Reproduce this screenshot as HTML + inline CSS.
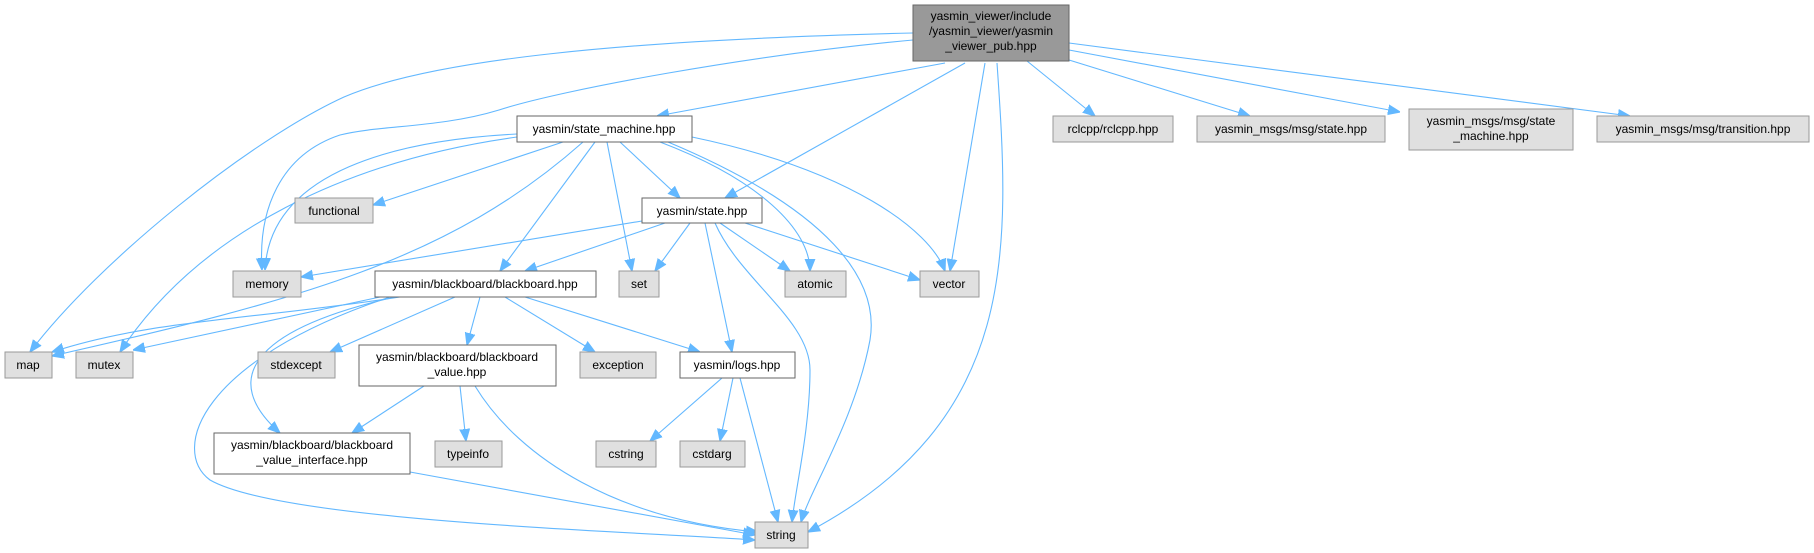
<!DOCTYPE html>
<html><head><meta charset="utf-8"><style>
html,body{margin:0;padding:0;background:#fff;}
svg{display:block;}
text{font-family:"Liberation Sans",Helvetica,sans-serif;font-size:12px;fill:#000;}
.g{fill:#e0e0e0;stroke:#999;stroke-width:1}
.w{fill:#fff;stroke:#666;stroke-width:1}
.e{fill:none;stroke:#63b8ff;stroke-width:1.1}
</style></head><body>
<svg width="1814" height="553" viewBox="0 0 1814 553" xmlns="http://www.w3.org/2000/svg">
<defs><marker id="a" viewBox="0 0 10 10" refX="10" refY="5" markerWidth="12" markerHeight="12" markerUnits="userSpaceOnUse" orient="auto"><path d="M0,1 L10,5 L0,9 z" fill="#63b8ff" stroke="#63b8ff"/></marker></defs>
<g marker-end="url(#a)">
<path class="e" d="M913,33 C620,40 430,60 344,97 C250,140 100,260 30,352"/>
<path class="e" d="M913,40 C750,55 560,90 499,110 C440,128 380,125 340,135 C280,155 258,210 262,270"/>
<path class="e" d="M945,63 L657,116"/>
<path class="e" d="M965,63 L725,198"/>
<path class="e" d="M985,63 L950,271"/>
<path class="e" d="M997,63 C1010,250 1020,420 808,532"/>
<path class="e" d="M1027,61 L1095,116"/>
<path class="e" d="M1069,60 L1250,116"/>
<path class="e" d="M1069,50 L1400,112"/>
<path class="e" d="M1069,43 L1630,116"/>
<path class="e" d="M517,134 C400,140 270,170 265,270"/>
<path class="e" d="M517,137 C350,160 200,230 120,352"/>
<path class="e" d="M583,142 C450,260 300,300 52,356"/>
<path class="e" d="M563,142 L373,205"/>
<path class="e" d="M595,142 L500,271"/>
<path class="e" d="M607,142 L632,271"/>
<path class="e" d="M620,142 L680,198"/>
<path class="e" d="M660,142 C760,180 810,230 810,271"/>
<path class="e" d="M668,142 C830,210 880,280 870,340 C855,420 810,490 801,522"/>
<path class="e" d="M692,137 C850,170 930,230 945,271"/>
<path class="e" d="M642,221 L301,277"/>
<path class="e" d="M665,223 L525,271"/>
<path class="e" d="M690,223 L655,271"/>
<path class="e" d="M720,223 L790,271"/>
<path class="e" d="M745,223 L920,280"/>
<path class="e" d="M705,223 L732,352"/>
<path class="e" d="M715,223 C740,280 810,320 810,370 C810,430 795,490 792,522"/>
<path class="e" d="M400,297 C250,320 150,320 52,352"/>
<path class="e" d="M380,297 L133,350"/>
<path class="e" d="M455,297 L330,352"/>
<path class="e" d="M480,297 L467,345"/>
<path class="e" d="M505,297 L595,352"/>
<path class="e" d="M525,297 L700,352"/>
<path class="e" d="M395,297 C250,330 220,380 280,433"/>
<path class="e" d="M390,297 C200,360 170,450 210,480 C280,520 600,530 755,540"/>
<path class="e" d="M424,386 L352,433"/>
<path class="e" d="M460,386 L466,441"/>
<path class="e" d="M475,386 C520,460 620,520 758,532"/>
<path class="e" d="M410,472 L755,535"/>
<path class="e" d="M722,378 L650,441"/>
<path class="e" d="M733,378 L720,441"/>
<path class="e" d="M740,378 L778,522"/>
</g>
<rect x="913" y="5" width="156" height="56" fill="#999" stroke="#666"/>
<text x="991" y="20" text-anchor="middle">yasmin_viewer/include</text>
<text x="991" y="35" text-anchor="middle">/yasmin_viewer/yasmin</text>
<text x="991" y="50" text-anchor="middle">_viewer_pub.hpp</text>
<rect class="w" x="517" y="116" width="175" height="26"/><text x="604" y="133" text-anchor="middle">yasmin/state_machine.hpp</text>
<rect class="g" x="295" y="198" width="78" height="25"/><text x="334" y="215" text-anchor="middle">functional</text>
<rect class="w" x="642" y="198" width="120" height="25"/><text x="702" y="215" text-anchor="middle">yasmin/state.hpp</text>
<rect class="g" x="233" y="271" width="68" height="26"/><text x="267" y="288" text-anchor="middle">memory</text>
<rect class="w" x="375" y="271" width="221" height="26"/><text x="485" y="288" text-anchor="middle">yasmin/blackboard/blackboard.hpp</text>
<rect class="g" x="619" y="271" width="40" height="26"/><text x="639" y="288" text-anchor="middle">set</text>
<rect class="g" x="785" y="271" width="61" height="26"/><text x="815" y="288" text-anchor="middle">atomic</text>
<rect class="g" x="920" y="271" width="59" height="26"/><text x="949" y="288" text-anchor="middle">vector</text>
<rect class="g" x="5" y="352" width="47" height="26"/><text x="28" y="369" text-anchor="middle">map</text>
<rect class="g" x="76" y="352" width="57" height="26"/><text x="104" y="369" text-anchor="middle">mutex</text>
<rect class="g" x="258" y="352" width="77" height="26"/><text x="296" y="369" text-anchor="middle">stdexcept</text>
<rect class="w" x="359" y="345" width="197" height="41"/><text x="457" y="361" text-anchor="middle">yasmin/blackboard/blackboard</text><text x="457" y="376" text-anchor="middle">_value.hpp</text>
<rect class="g" x="580" y="352" width="76" height="26"/><text x="618" y="369" text-anchor="middle">exception</text>
<rect class="w" x="680" y="352" width="115" height="26"/><text x="737" y="369" text-anchor="middle">yasmin/logs.hpp</text>
<rect class="w" x="214" y="433" width="196" height="41"/><text x="312" y="449" text-anchor="middle">yasmin/blackboard/blackboard</text><text x="312" y="464" text-anchor="middle">_value_interface.hpp</text>
<rect class="g" x="435" y="441" width="67" height="26"/><text x="468" y="458" text-anchor="middle">typeinfo</text>
<rect class="g" x="596" y="441" width="60" height="26"/><text x="626" y="458" text-anchor="middle">cstring</text>
<rect class="g" x="680" y="441" width="65" height="26"/><text x="712" y="458" text-anchor="middle">cstdarg</text>
<rect class="g" x="755" y="522" width="53" height="26"/><text x="781" y="539" text-anchor="middle">string</text>
<rect class="g" x="1053" y="116" width="120" height="26"/><text x="1113" y="133" text-anchor="middle">rclcpp/rclcpp.hpp</text>
<rect class="g" x="1197" y="116" width="188" height="26"/><text x="1291" y="133" text-anchor="middle">yasmin_msgs/msg/state.hpp</text>
<rect class="g" x="1409" y="109" width="164" height="41"/><text x="1491" y="125" text-anchor="middle">yasmin_msgs/msg/state</text><text x="1491" y="140" text-anchor="middle">_machine.hpp</text>
<rect class="g" x="1597" y="116" width="212" height="26"/><text x="1703" y="133" text-anchor="middle">yasmin_msgs/msg/transition.hpp</text>
</svg>
</body></html>
